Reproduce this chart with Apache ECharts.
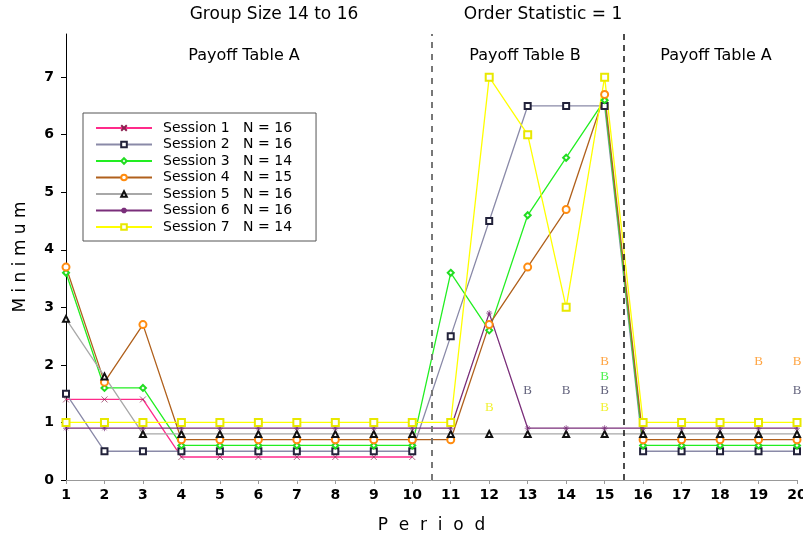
<!DOCTYPE html>
<html><head><meta charset="utf-8">
<script src="https://cdn.jsdelivr.net/npm/echarts@6/dist/echarts.min.js"></script>
<style>html,body{margin:0;padding:0;background:#fff}#c{width:803px;height:539px}</style>
</head><body><div id="c"></div>
<script>
const periods = [1,2,3,4,5,6,7,8,9,10,11,12,13,14,15,16,17,18,19,20];
const session1 = [1.4,1.4,1.4,0.4,0.4,0.4,0.4,0.4,0.4,0.4,null,null,null,null,null,null,null,null,null,null];
const session2 = [1.5,0.5,0.5,0.5,0.5,0.5,0.5,0.5,0.5,0.5,2.5,4.5,6.5,6.5,6.5,0.5,0.5,0.5,0.5,0.5];
const session3 = [3.6,1.6,1.6,0.6,0.6,0.6,0.6,0.6,0.6,0.6,3.6,2.6,4.6,5.6,6.6,0.6,0.6,0.6,0.6,0.6];
const session4 = [3.7,1.7,2.7,0.7,0.7,0.7,0.7,0.7,0.7,0.7,0.7,2.7,3.7,4.7,6.7,0.7,0.7,0.7,0.7,0.7];
const session5 = [2.8,1.8,0.8,0.8,0.8,0.8,0.8,0.8,0.8,0.8,0.8,0.8,0.8,0.8,0.8,0.8,0.8,0.8,0.8,0.8];
const session6 = [0.9,0.9,0.9,0.9,0.9,0.9,0.9,0.9,0.9,0.9,0.9,2.9,0.9,0.9,0.9,0.9,0.9,0.9,0.9,0.9];
const session7 = [1.0,1.0,1.0,1.0,1.0,1.0,1.0,1.0,1.0,1.0,1.0,7.0,6.0,3.0,7.0,1.0,1.0,1.0,1.0,1.0];
const sessionNames = ['Session 1   N = 16','Session 2   N = 16','Session 3   N = 14','Session 4   N = 15','Session 5   N = 16','Session 6   N = 16','Session 7   N = 14'];
// "B" annotations: [period, level]
const bSession2 = [[13,1.55],[14,1.55],[15,1.55],[20,1.55]];
const bSession3 = [[15,1.8]];
const bSession4 = [[15,2.05],[19,2.05],[20,2.05]];
const bSession7 = [[12,1.25],[15,1.25]];
const yTicks = [0,1,2,3,4,5,6,7];
const payoffBreaks = [10.5, 15.5];

const FONT = 'DejaVu Sans';
const styles = [
  {line:'#ff2a8a', mark:'#8b2050', symbol:'path://M0,0L10,10M0,10L10,0', size:6},
  {line:'#8a8aa8', mark:'#22223a', symbol:'emptyRect', size:6},
  {line:'#22ee22', mark:'#22dd22', symbol:'emptyDiamond', size:6},
  {line:'#b0601c', mark:'#ff8c10', symbol:'emptyCircle', size:7},
  {line:'#a8a8a8', mark:'#111111', symbol:'emptyTriangle', size:6},
  {line:'#7a2e7a', mark:'#7a2e7a', symbol:'path://M5,0L5,10M0,5L10,5M1.5,1.5L8.5,8.5M1.5,8.5L8.5,1.5', size:6},
  {line:'#ffff00', mark:'#e8e800', symbol:'emptyRect', size:7}
];
const allSessions = [session1,session2,session3,session4,session5,session6,session7];

const series = allSessions.map((vals,i)=>({
  name: sessionNames[i],
  type:'line',
  data: periods.map((p,j)=>[p, vals[j]]),
  symbol: styles[i].symbol,
  symbolSize: styles[i].size,
  showAllSymbol: true,
  connectNulls: false,
  lineStyle:{color:styles[i].line, width:1.3},
  itemStyle:{color:styles[i].mark, borderColor:styles[i].mark, borderWidth:0.7},
  emphasis:{disabled:true},
  animation:false
}));

series[0].markLine = {
  silent:true, symbol:'none', label:{show:false}, animation:false,
  data:[
    {xAxis: payoffBreaks[0], lineStyle:{color:'#777', width:2, type:[6,6]}},
    {xAxis: payoffBreaks[1], lineStyle:{color:'#111', width:1.5, type:[6,5]}}
  ]
};

function bSeries(data, color){
  return {type:'scatter', data:data, symbolSize:1, itemStyle:{color:'rgba(0,0,0,0)'},
    label:{show:true, position:'inside', formatter:'B', color:color, fontFamily:'Liberation Serif', fontSize:13},
    silent:true, animation:false};
}
series.push(bSeries(bSession2,'#3a3a5a'));
series.push(bSeries(bSession3,'#22ee22'));
series.push(bSeries(bSession4,'#ff8c10'));
series.push(bSeries(bSession7,'#eeee00'));

const chart = echarts.init(document.getElementById('c'), null, {renderer:'canvas'});
chart.setOption({
  backgroundColor:'#fff',
  animation:false,
  textStyle:{fontFamily:FONT},
  grid:{left:66, top:34, width:731, height:446, containLabel:false, outerBoundsMode:'none'},
  xAxis:{type:'value', min:1, max:20, interval:1,
    name:'P  e  r  i  o  d', nameLocation:'middle', nameGap:37,
    nameTextStyle:{fontFamily:FONT, fontSize:17, color:'#000'},
    axisLine:{lineStyle:{color:'#999', width:1}},
    axisTick:{lineStyle:{color:'#999'}, length:4},
    axisLabel:{fontFamily:FONT, fontSize:14, fontWeight:'bold', color:'#000', margin:8},
    splitLine:{show:false}},
  yAxis:{type:'value', min:0, max:7.75,
    name:'M i n i m u m', nameLocation:'middle', nameGap:37,
    nameTextStyle:{fontFamily:FONT, fontSize:17, color:'#000'},
    axisLine:{show:true, lineStyle:{color:'#000', width:1}},
    axisTick:{show:true, length:5, lineStyle:{color:'#000'}, customValues:yTicks},
    axisLabel:{fontFamily:FONT, fontSize:14, fontWeight:'bold', color:'#000', margin:12, customValues:yTicks},
    splitLine:{show:false}},
  legend:{
    data: sessionNames,
    orient:'vertical', left:83, top:113,
    itemWidth:56, itemHeight:7, itemGap:2.5,
    padding:[8,24,7,12],
    backgroundColor:'#fff', borderColor:'#555', borderWidth:1,
    textStyle:{fontFamily:FONT, fontSize:14, color:'#000', padding:[0,0,0,6]},
    selectedMode:false
  },
  graphic:[
    {type:'text', x:274, y:15, style:{text:'Group Size 14 to 16', font:'17px "DejaVu Sans"', fill:'#000', textAlign:'center', textVerticalAlign:'middle'}},
    {type:'text', x:543, y:15, style:{text:'Order Statistic = 1', font:'17px "DejaVu Sans"', fill:'#000', textAlign:'center', textVerticalAlign:'middle'}},
    {type:'text', x:244, y:56, style:{text:'Payoff Table A', font:'16px "DejaVu Sans"', fill:'#000', textAlign:'center', textVerticalAlign:'middle'}},
    {type:'text', x:525, y:56, style:{text:'Payoff Table B', font:'16px "DejaVu Sans"', fill:'#000', textAlign:'center', textVerticalAlign:'middle'}},
    {type:'text', x:716, y:56, style:{text:'Payoff Table A', font:'16px "DejaVu Sans"', fill:'#000', textAlign:'center', textVerticalAlign:'middle'}}
  ],
  series: series
});
</script>
</body></html>
